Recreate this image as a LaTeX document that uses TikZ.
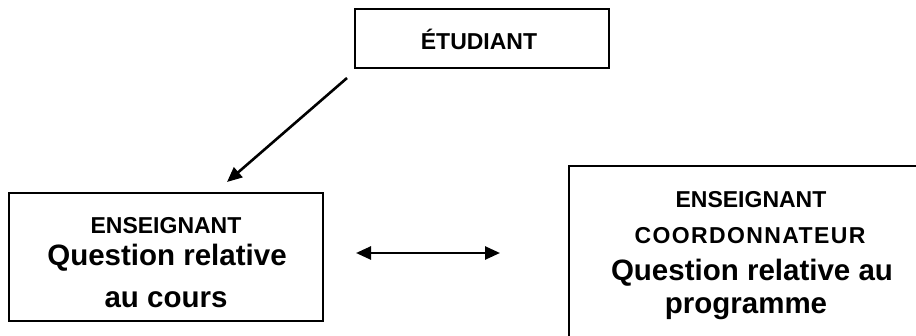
\documentclass[tikz,border=0pt]{standalone}
\usepackage{fontspec}
\setmainfont{Liberation Sans}
\usetikzlibrary{arrows.meta}
\tikzset{
  boxst/.style={draw, line width=2.2pt, rectangle},
  small/.style={font=\bfseries\fontsize{23}{27}\selectfont, anchor=base, inner sep=0pt},
  big/.style={font=\bfseries\fontsize{29.5}{34}\selectfont, anchor=base, inner sep=0pt},
  conn/.style={line width=2.6pt, -{Triangle[length=15pt,width=13pt]}},
  dconn/.style={line width=2.6pt, {Triangle[length=15pt,width=13pt]}-{Triangle[length=15pt,width=13pt]}},
}
\begin{document}
\begin{tikzpicture}[x=1pt,y=-1pt]
\useasboundingbox (0,0) rectangle (916,335);
\begin{scope}
\clip (0,0) rectangle (916,335);
\draw[boxst] (355,9) rectangle (609,68);
\draw[boxst] (9,193) rectangle (323,321);
\draw[boxst] (569,166) rectangle (940,350);
\end{scope}
\node[small] (tetud) at (479,49) {ÉTUDIANT};
\node[small] (tens1) at (166,233) {ENSEIGNANT};
\node[big] (tens2) at (167,265) {Question relative};
\node[big] (tens3) at (166,307) {au cours};
\node[small] (tco1) at (751,207) {ENSEIGNANT};
\node[small] (tco2) at (750,243) {\addfontfeatures{LetterSpace=6}COORDONNATEUR};
\node[big] (tco3) at (752,280) {Question relative au};
\node[big] (tco4) at (746,313) {programme};
\coordinate (a1) at (347,78);
\coordinate (a2) at (227,182);
\coordinate (b1) at (356,253);
\coordinate (b2) at (500,253);
\draw[conn] (a1) -- (a2);
\draw[dconn] (b1) -- (b2);
\end{tikzpicture}
\end{document}
